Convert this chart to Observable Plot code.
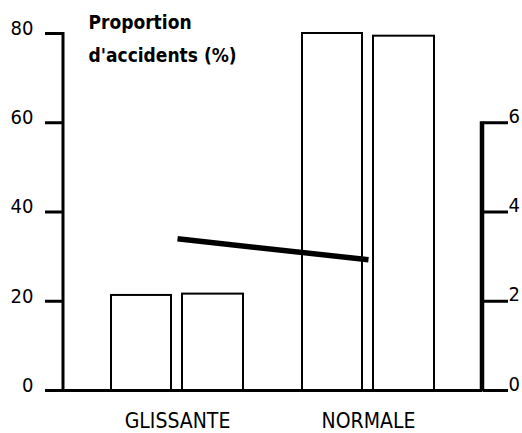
<!DOCTYPE html>
<html>
<head>
<meta charset="utf-8">
<script src="https://cdn.jsdelivr.net/npm/d3@7"></script>
<script src="https://cdn.jsdelivr.net/npm/@observablehq/plot@0.6"></script>
<style>
  html, body { margin: 0; padding: 0; background: #fff; }
</style>
</head>
<body>
<div id="chart"></div>
<script>
// ---- data ----
const categories = ["GLISSANTE", "NORMALE"];
const seriesA = [21.3, 80.0];        // first bar of each group (%)
const seriesB = [21.6, 79.4];        // second bar of each group (%)
const lineValues = [3.4, 2.93];      // line, read on the right axis
const leftTicks = [0, 20, 40, 60, 80];
const rightTicks = [0, 2, 4, 6];
const titleLines = ["Proportion", "d'accidents (%)"];

// right axis: 6 on the right lines up with 60 on the left
const rightFactor = 10;

const rows = categories.map((c, i) => ({
  category: c, a: seriesA[i], b: seriesB[i], line: lineValues[i] * rightFactor
}));

const labelFont = "'DejaVu Sans Condensed', 'Liberation Sans Narrow', sans-serif";

const plot = Plot.plot({
  width: 522,
  height: 433,
  marginLeft: 63,
  marginRight: 40,
  marginTop: 33,
  marginBottom: 43,
  style: { fontFamily: labelFont, color: "black", background: "white" },
  x: { type: "band", domain: categories, paddingInner: 0.31, paddingOuter: 0.25, label: null },
  y: { domain: [0, 80], label: null },
  marks: [
    Plot.barY(rows, { x: "category", y: "a", insetRight: 72, fill: "white", stroke: "black", strokeWidth: 2 }),
    Plot.barY(rows, { x: "category", y: "b", insetLeft: 71, fill: "white", stroke: "black", strokeWidth: 2 }),
    Plot.line(rows, { x: "category", y: "line", stroke: "black", strokeWidth: 5.5, strokeLinecap: "butt" }),
    Plot.ruleY([0], { stroke: "black", strokeWidth: 3 }),
    // left axis: ticks, then labels (labels sit a little above their ticks)
    Plot.axisY({ ticks: leftTicks, tickSize: 18, strokeWidth: 3, fill: "none", label: null }),
    Plot.axisY({ ticks: leftTicks, tickSize: 18, tickPadding: 12, stroke: "none", fontSize: 20, dy: -5, label: null }),
    // right axis
    Plot.axisY(rightTicks.map(d => d * rightFactor), {
      anchor: "right", tickSize: 25, tickPadding: 1, fontSize: 20, strokeWidth: 3,
      tickFormat: d => d / rightFactor, lineAnchor: "bottom", label: null
    }),
    Plot.axisX({ tickSize: 0, tickPadding: 23, fontSize: 21, lineAnchor: "top", label: null }),
    Plot.text([titleLines[0]], {
      frameAnchor: "top-left", dx: 25, dy: -5, lineAnchor: "bottom", textAnchor: "start",
      fontSize: 19, fontWeight: "bold"
    }),
    Plot.text([titleLines[1]], {
      frameAnchor: "top-left", dx: 25, dy: 28, lineAnchor: "bottom", textAnchor: "start",
      fontSize: 19, fontWeight: "bold"
    })
  ]
});

// axis lines drawn from the plot's own y scale
const y = plot.scale("y");
const svg = d3.select(plot);
const leftX = 63, rightX = 522 - 40;
svg.append("line")
  .attr("x1", leftX).attr("x2", leftX)
  .attr("y1", y.apply(0) + 1.5).attr("y2", y.apply(leftTicks[leftTicks.length - 1]) - 1)
  .attr("stroke", "black").attr("stroke-width", 3);
svg.append("line")
  .attr("x1", rightX).attr("x2", rightX)
  .attr("y1", y.apply(0) + 1.5).attr("y2", y.apply(rightTicks[rightTicks.length - 1] * rightFactor) - 1)
  .attr("stroke", "black").attr("stroke-width", 4.5);

document.getElementById("chart").appendChild(plot);
</script>
</body>
</html>
